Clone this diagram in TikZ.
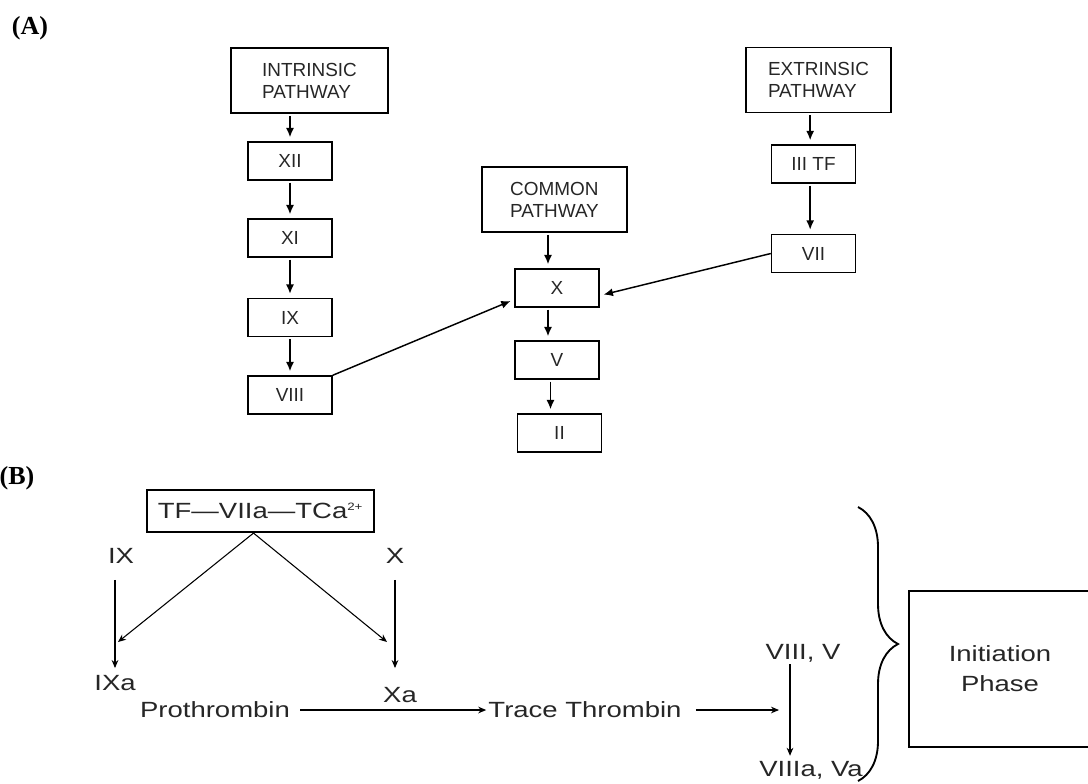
\documentclass[tikz,border=0pt]{standalone}
\usepackage{fontspec}
\setmainfont{Liberation Sans}
\newfontfamily\widesans[FakeStretch=1.25]{Liberation Sans}
\newfontfamily\panelfont{Liberation Serif}
\usetikzlibrary{arrows.meta,positioning,calc,decorations.pathreplacing}

\begin{document}
\begin{tikzpicture}[x=0.75pt,y=-0.75pt,
    factor/.style={draw,line width=1.1pt,minimum width=63pt,minimum height=28.5pt,inner sep=0pt,
        text=black!85,font=\fontsize{14.2}{16.5}\selectfont},
    pathbox/.style={factor,minimum width=109pt,minimum height=49pt,align=left},
    flow/.style={-{Latex[length=7pt,width=6pt]},line width=1.1pt,shorten <=1.5pt,shorten >=3pt},
    agent/.style={inner sep=1.5pt,text=black!85,font=\widesans\fontsize{16.5}{22.5}\selectfont},
    thinflow/.style={-{Stealth[length=6pt,width=5pt]},line width=0.8pt},
    panel/.style={font=\panelfont\bfseries\fontsize{19.5}{22}\selectfont}]

\useasboundingbox (0,0) rectangle (1088,783);

% ---- (A) the three pathways
\node[panel] (labA) at (30,28) {(A)};

% intrinsic branch
\node[pathbox,minimum width=118pt] (intr) at (309.5,80.5) {INTRINSIC\\PATHWAY};
\foreach \name/\txt/\y in {xii/XII/161,xi/XI/238,ix/IX/317.5,viii/VIII/395}
    \node[factor] (\name) at (290,\y) {\txt};
\foreach \a/\b in {intr/xii,xii/xi,xi/ix,ix/viii}
    \draw[flow] (\b.north |- \a.south) -- (\b.north);

% common branch
\node[pathbox] (common) at (554.5,199.5) {COMMON\\PATHWAY};
\node[factor] (x) at (557,288) {X};
\node[factor] (v) at (557,360) {V};
\node[factor] (ii) at (559.5,433) {II};
\foreach \a/\b in {common/x,x/v,v/ii}
    \draw[flow] ([xshift=-6.75pt]\b.north |- \a.south) -- ([xshift=-6.75pt]\b.north);

% extrinsic branch
\node[pathbox] (extr) at (818.5,80) {EXTRINSIC\\PATHWAY};
\node[factor] (iiitf) at (813.5,164) {III TF};
\node[factor] (vii) at (813.5,253.5) {VII};
\foreach \a/\b in {extr/iiitf,iiitf/vii}
    \draw[flow] ([xshift=-2.5pt]\b.north |- \a.south) -- ([xshift=-2.5pt]\b.north);

% both branches feed into X
\draw[flow,shorten <=0pt] (viii.north east) -- (x.195);
\draw[flow,shorten <=0pt] (vii.west) -- (x.350);

% ---- (B) initiation phase
\node[panel] (labB) at (17,478) {(B)};

\node[draw,line width=1.6pt,minimum width=170pt,minimum height=31.5pt,inner sep=0pt,agent]
    (tf) at (260.5,511) {TF—VIIa—TCa\textsuperscript{\footnotesize 2+}};

\node[agent] (ixl) at (121,556) {IX};
\node[agent] (xl) at (395,556) {X};
\node[agent] (ixa) at (115,683) {IXa};
\node[agent] (xa) at (400,695) {Xa};
\node[agent] (proth) at (215,710) {Prothrombin};
\node[agent] (trace) at (585,710) {Trace Thrombin};
\node[agent] (viiiv) at (803,653) {VIII, V};
\node[agent] (viiiava) at (811,770) {VIIIa, Va};

\coordinate (ixhit) at (118,642);
\coordinate (xhit) at (387,642);
\coordinate (vhit) at (779,710);

\draw[thinflow] ([xshift=-5.25pt]tf.south) -- (ixhit);
\draw[thinflow] ([xshift=-5.25pt]tf.south) -- (xhit);
\draw[thinflow,shorten <=10.5pt,shorten >=3.75pt] (ixa.north |- ixl.south) -- (ixa.north);
\draw[thinflow,shorten <=10.5pt,shorten >=12.75pt] (xl.south) -- (xl.south |- xa.north);
\draw[thinflow,shorten <=6pt] (proth.east) -- (trace.west);
\draw[thinflow,shorten <=9pt] (trace.east) -- (vhit);
\draw[thinflow,shorten >=2.25pt] ([xshift=-9.75pt]viiiv.south) -- ([xshift=-9.75pt]viiiv.south |- viiiava.north);

% brace and phase box
\draw[line width=1.4pt,decorate,decoration={brace,amplitude=30pt}] (858,507) -- (858,781);
\node[draw,line width=1.6pt,minimum width=136.5pt,minimum height=117pt,inner sep=0pt,agent,align=center]
    (init) at (1000,669) {Initiation\\Phase};

\end{tikzpicture}
\end{document}
